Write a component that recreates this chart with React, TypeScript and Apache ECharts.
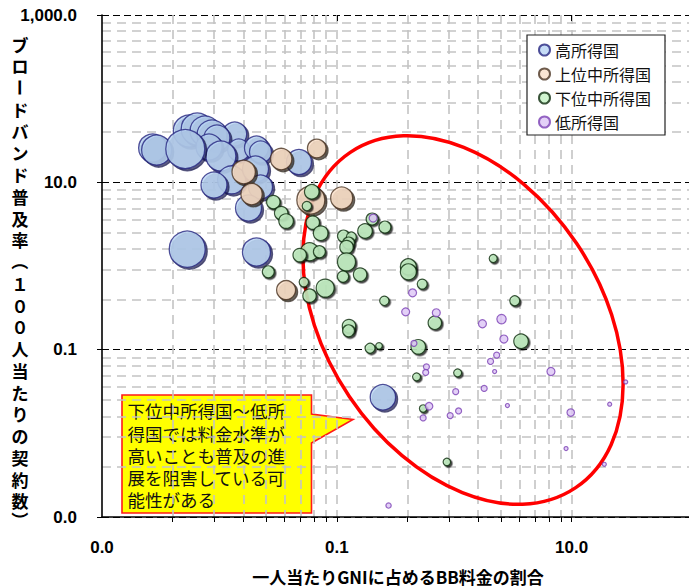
import { useEffect, useRef } from 'react';
import * as echarts from 'echarts';

type Point = [number, number, number]; // [BB料金の割合, 普及率, 規模]

const SERIES_NAMES = ['高所得国', '上位中所得国', '下位中所得国', '低所得国'];

// tick labels (log axes, one label every two decades)
const X_LABELS = [0.001, 0.1, 10];
const Y_LABELS = [0.001, 0.1, 10, 1000];

// dashed grid positions
const X_GRID = [0.004, 0.009, 0.016, 0.025, 0.036, 0.049, 0.064, 0.081, 0.1,
  0.4, 0.9, 1.6, 2.5, 3.6, 4.9, 6.4, 8.1, 10];
const Y_GRID = [0.004, 0.009, 0.016, 0.025, 0.036, 0.049, 0.064, 0.081,
  0.4, 0.9, 1.6, 2.5, 3.6, 4.9, 6.4, 8.1,
  40, 90, 160, 250, 360, 490, 640, 810];

const HIGH_INCOME: Point[] = [
  [0.0027, 25.7, 196], [0.00554, 41.1, 256], [0.00647, 43.4, 256], [0.00755, 41.1, 225],
  [0.0135, 37.8, 144], [0.00865, 36.8, 225], [0.00953, 33.9, 169], [0.00816, 26.4, 169],
  [0.0146, 24.3, 121], [0.0207, 25.7, 144], [0.0224, 23.0, 121], [0.0103, 20.6, 225],
  [0.0476, 17.5, 156], [0.0127, 10.7, 196], [0.00899, 9.29, 169], [0.0203, 14.4, 169],
  [0.0224, 8.79, 144], [0.0177, 4.93, 169], [0.00292, 24.3, 225], [0.00512, 25.0, 380],
  [0.00532, 1.59, 324], [0.0207, 1.47, 196], [0.247, 0.027, 161],
];

const UPPER_MIDDLE: Point[] = [
  [0.0161, 13.3, 137], [0.0336, 19.0, 114], [0.0675, 25.4, 86], [0.0188, 7.24, 114],
  [0.0601, 6.14, 196], [0.11, 6.49, 121], [0.037, 0.515, 90],
];

const LOWER_MIDDLE: Point[] = [
  [0.0612, 7.72, 53], [0.0556, 5.21, 22], [0.0288, 5.81, 45], [0.0336, 4.29, 45],
  [0.037, 3.44, 53], [0.0624, 3.3, 45], [0.0729, 2.47, 53], [0.114, 2.28, 36],
  [0.133, 2.22, 25], [0.126, 1.88, 36], [0.121, 1.68, 45], [0.174, 2.62, 53],
  [0.2, 3.64, 36], [0.257, 2.92, 36], [0.0586, 1.48, 81], [0.0483, 1.35, 45],
  [0.0711, 1.48, 36], [0.121, 1.12, 81], [0.0261, 0.852, 36], [0.113, 0.747, 32],
  [0.158, 0.789, 45], [0.0524, 0.642, 22], [0.0796, 0.544, 81], [0.0586, 0.442, 45],
  [0.254, 0.384, 22], [0.407, 0.978, 64], [0.407, 0.852, 64], [0.534, 0.608, 25],
  [0.684, 0.21, 45], [0.127, 0.191, 45], [0.126, 0.168, 36], [0.192, 0.104, 25],
  [0.229, 0.111, 11], [0.494, 0.108, 53], [0.478, 0.0473, 16], [1.07, 0.0528, 16],
  [0.544, 0.0198, 14], [0.866, 0.00455, 14], [2.15, 1.23, 16], [3.28, 0.384, 25],
  [3.71, 0.126, 53],
];

const LOW_INCOME: Point[] = [
  [0.204, 3.74, 16], [0.442, 0.478, 16], [0.386, 0.283, 16], [0.704, 0.276, 16],
  [0.454, 0.119, 9], [1.74, 0.204, 16], [2.53, 0.232, 22], [2.65, 0.134, 16],
  [2.3, 0.0859, 9], [2.04, 0.0723, 9], [2.21, 0.0548, 4], [6.67, 0.0548, 16],
  [0.58, 0.0623, 9], [0.572, 0.0534, 9], [1.03, 0.0315, 9], [1.8, 0.0344, 9],
  [28.9, 0.0412, 4], [0.611, 0.0211, 14], [0.544, 0.0153, 9], [0.924, 0.0163, 9],
  [1.09, 0.0185, 9], [2.84, 0.0215, 4], [9.83, 0.0177, 14], [21.1, 0.0223, 4],
  [8.97, 0.00658, 4], [19.0, 0.00427, 4], [0.276, 0.00137, 7],
];

const X_TITLE = '一人当たりGNIに占めるBB料金の割合';
const Y_TITLE = 'ブロードバンド普及率（１００人当たりの契約数）';
const NOTE_LINES = [
  '下位中所得国～低所',
  '得国では料金水準が',
  '高いことも普及の進',
  '展を阻害している可',
  '能性がある',
];

const JP = '"Noto Sans CJK JP", "Noto Sans", sans-serif';
const NUM = '"Liberation Sans", Arial, sans-serif';

const fmt = (v: number) =>
  Number(v).toLocaleString('en-US', { minimumFractionDigits: 1, maximumFractionDigits: 1 });

const bubbleSize = (v: number[]) => 2 * Math.sqrt(v[2]);

// upright vertical title, one glyph per cell; dash and brackets turned for vertical setting
function verticalTitle() {
  const children: any[] = [];
  let y = 44;
  Array.from(Y_TITLE).forEach((ch) => {
    const rotated = ch === 'ー' || ch === '（' || ch === '）';
    children.push({
      type: 'text',
      x: 20,
      y,
      rotation: rotated ? -Math.PI / 2 : 0,
      style: {
        text: ch,
        font: `bold 17px ${JP}`,
        lineHeight: 17,
        fill: '#000',
        align: 'center',
        verticalAlign: 'middle',
      },
    });
    y += ch === '数' ? 19.6 : 21.75;
  });
  return { type: 'group', children };
}

function callout() {
  const children: any[] = [
    {
      type: 'polygon',
      shape: {
        points: [[122, 395], [311.5, 395], [311.5, 414], [353, 419.5], [311.5, 443],
          [311.5, 513], [122, 513]],
      },
      style: { fill: '#ffff00', stroke: '#ff1a1a', lineWidth: 1.6 },
    },
  ];
  NOTE_LINES.forEach((line, i) => {
    children.push({
      type: 'text',
      x: 127.5,
      y: 410.7 + i * 22.3,
      style: {
        text: line,
        font: `17.5px ${JP}`,
        lineHeight: 17.5,
        fill: '#111',
        align: 'left',
        verticalAlign: 'middle',
      },
    });
  });
  return { type: 'group', z: -1, silent: true, children };
}

function buildOption(): any {
  const scatter = (name: string, data: Point[], style: any) => ({
    name,
    type: 'scatter',
    xAxisIndex: 0,
    yAxisIndex: 0,
    data,
    symbol: 'circle',
    symbolSize: bubbleSize,
    itemStyle: style,
    emphasis: { disabled: true },
  });

  return {
    animation: false,
    backgroundColor: '#ffffff',
    grid: { left: 102, top: 15, width: 594, height: 502 },
    xAxis: [
      {
        type: 'log', logBase: 10, min: 0.001, max: 100,
        axisLine: { show: true, onZero: false, lineStyle: { color: '#000', width: 1.6 } },
        axisTick: { show: true, customValues: X_GRID, length: 5, lineStyle: { color: '#000', width: 1 } },
        axisLabel: {
          customValues: X_LABELS, formatter: fmt, margin: 22,
          fontSize: 17, fontWeight: 'bold', fontFamily: NUM, color: '#000',
        },
        splitLine: { show: true, lineStyle: { color: '#c4c4c4', width: 1.6, type: [9, 6] } },
      },
      {
        type: 'log', logBase: 10, min: 0.001, max: 100,
        axisLine: { show: false },
        axisTick: { show: true, inside: true, customValues: [0.1, 10], length: 6, lineStyle: { color: '#000', width: 1 } },
        axisLabel: { show: false },
        splitLine: { show: false },
      },
    ],
    yAxis: [
      {
        type: 'log', logBase: 10, min: 0.001, max: 1000,
        axisLine: { show: true, onZero: false, lineStyle: { color: '#000', width: 1.6 } },
        axisTick: { show: true, customValues: Y_LABELS, length: 5, lineStyle: { color: '#000', width: 1 } },
        axisLabel: {
          customValues: Y_LABELS, formatter: fmt, margin: 25,
          fontSize: 17, fontWeight: 'bold', fontFamily: NUM, color: '#000',
        },
        splitLine: { show: true, lineStyle: { color: '#000', width: 1.2, type: [7, 4] } },
      },
      {
        type: 'log', logBase: 10, min: 0.001, max: 1000,
        axisLine: { show: false },
        axisTick: { show: false, customValues: Y_GRID },
        axisLabel: { show: false },
        splitLine: { show: true, lineStyle: { color: '#c4c4c4', width: 1.6, type: [9, 6] } },
      },
    ],
    legend: {
      data: SERIES_NAMES,
      orient: 'vertical',
      left: 527,
      top: 35,
      icon: 'circle',
      itemWidth: 11,
      itemHeight: 11,
      itemGap: 6,
      padding: [6, 14, 4, 11],
      backgroundColor: '#ffffff',
      borderColor: '#222',
      borderWidth: 1.2,
      borderRadius: 0,
      itemStyle: { shadowBlur: 0, shadowOffsetX: 0, shadowOffsetY: 0, shadowColor: 'transparent' },
      textStyle: { fontSize: 16, lineHeight: 18, fontFamily: JP, color: '#111' },
    },
    series: [
      scatter(SERIES_NAMES[0], HIGH_INCOME, {
        color: '#b8d3f4', borderColor: '#262680', borderWidth: 1.3,
        shadowColor: 'rgba(15,15,70,0.85)', shadowBlur: 1, shadowOffsetX: 2, shadowOffsetY: 2,
      }),
      scatter(SERIES_NAMES[1], UPPER_MIDDLE, {
        color: '#fadfc7', borderColor: '#4a3322', borderWidth: 1.3,
        shadowColor: 'rgba(40,25,10,0.85)', shadowBlur: 1, shadowOffsetX: 2, shadowOffsetY: 2,
      }),
      scatter(SERIES_NAMES[2], LOWER_MIDDLE, {
        color: '#c4f3c4', borderColor: '#0d2a0d', borderWidth: 1.2,
        shadowColor: 'rgba(0,0,0,0.85)', shadowBlur: 1, shadowOffsetX: 1.5, shadowOffsetY: 1.5,
      }),
      scatter(SERIES_NAMES[3], LOW_INCOME, {
        color: '#dcc4f5', borderColor: '#7a40b4', borderWidth: 1.2,
      }),
    ],
    graphic: [
      {
        type: 'ellipse',
        z: 1,
        x: 463,
        y: 320,
        rotation: (-56.1 * Math.PI) / 180,
        shape: { cx: 0, cy: 0, rx: 202, ry: 137 },
        style: { fill: 'none', stroke: '#ff0000', lineWidth: 3.5 },
        silent: true,
      },
      callout(),
      {
        type: 'text',
        x: 398,
        y: 576,
        style: {
          text: X_TITLE,
          font: `bold 17px ${JP}`,
          lineHeight: 17,
          fill: '#000',
          align: 'center',
          verticalAlign: 'middle',
        },
      },
      verticalTitle(),
    ],
  };
}

export default function App() {
  const ref = useRef<HTMLDivElement>(null);
  useEffect(() => {
    if (!ref.current) return;
    const chart = echarts.init(ref.current, null, { renderer: 'svg' });
    chart.setOption(buildOption());
    return () => chart.dispose();
  }, []);
  return (
    <div
      ref={ref}
      style={{ position: 'fixed', left: 0, top: 0, width: 689, height: 587, background: '#fff' }}
    />
  );
}
